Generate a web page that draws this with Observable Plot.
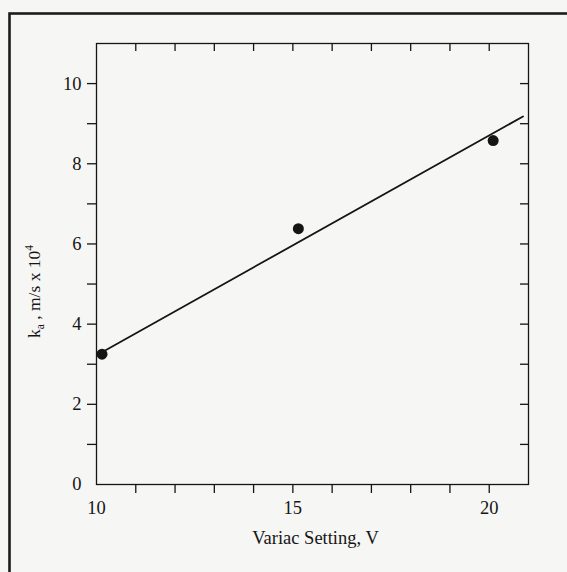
<!DOCTYPE html>
<html><head><meta charset="utf-8">
<script src="https://cdn.jsdelivr.net/npm/d3@7"></script>
<script src="https://cdn.jsdelivr.net/npm/@observablehq/plot@0.6"></script>
<style>
html,body{margin:0;padding:0;background:#f6f6f4;overflow:hidden}
#chart{position:absolute;left:0;top:0}
</style></head><body><div id="chart"></div>
<script>
// Measured points
const variac = [10.14, 15.14, 20.1];
const ka = [3.25, 6.38, 8.58];
// Fitted straight line (end points)
const fitVariac = [10.14, 20.86];
const fitKa = [3.30, 9.18];
// Ticks
const xTicks = [11, 12, 13, 14, 15, 16, 17, 18, 19, 20];
const xTickLabels = [10, 15, 20];
const yTicks = [1, 2, 3, 4, 5, 6, 7, 8, 9, 10];
const yTickLabels = [0, 2, 4, 6, 8, 10];
const xLabel = "Variac Setting, V";

const W = 567, H = 572, mL = 96, mR = 39, mT = 43, mB = 88;
const frameW = W - mL - mR, frameH = H - mT - mB;
const ink = "#151515";
const serif = "'Liberation Serif', 'DejaVu Serif', serif";

const points = variac.map((v, i) => ({x: v, y: ka[i]}));
const fit = fitVariac.map((v, i) => ({x: v, y: fitKa[i]}));

const svg = Plot.plot({
  width: W, height: H,
  marginLeft: mL, marginRight: mR, marginTop: mT, marginBottom: mB,
  style: {background: "transparent", fontFamily: serif, fontSize: "18px", color: ink},
  x: {domain: [10, 21]},
  y: {domain: [0, 11]},
  marks: [
    Plot.frame({stroke: ink, strokeWidth: 1.3}),
    Plot.axisX(xTicks, {anchor: "bottom", tickSize: 9, tickFormat: () => "", strokeWidth: 1.3, stroke: ink, label: null}),
    Plot.axisX(xTickLabels, {anchor: "bottom", tickSize: 0, tickPadding: 16, tickFormat: d => String(d), fill: ink, fontSize: 18.5, fontFamily: serif, label: null}),
    Plot.axisY(yTicks, {anchor: "left", tickSize: 9, tickFormat: () => "", strokeWidth: 1.3, stroke: ink, label: null}),
    Plot.axisY(yTickLabels, {anchor: "left", tickSize: 0, tickPadding: 15, tickFormat: d => String(d), fill: ink, fontSize: 18.5, fontFamily: serif, label: null}),
    Plot.tickX(xTicks, {x: d => d, insetBottom: frameH - 8, stroke: ink, strokeWidth: 1.3}),
    Plot.tickY(yTicks, {y: d => d, insetLeft: frameW - 8, stroke: ink, strokeWidth: 1.3}),
    Plot.line(fit, {x: "x", y: "y", stroke: ink, strokeWidth: 1.8}),
    Plot.dot(points, {x: "x", y: "y", r: 5.5, fill: ink, stroke: "none"}),
    Plot.text([xLabel], {text: d => d, frameAnchor: "bottom", dy: 59, dx: 3, fontSize: 18.5, fontFamily: serif, fill: ink})
  ]
});

const s = d3.select(svg);
// make sure tick labels use the serif face at the reference size
s.selectAll("g[aria-label$='tick label'], g[aria-label$='tick label'] text")
  .style("font-family", serif)
  .style("font-size", "18.5px")
  .style("font-variant", "normal");

// outer border of the figure panel
s.insert("rect", ":first-child")
  .attr("x", 9.5).attr("y", 13.5).attr("width", 700).attr("height", 700)
  .attr("fill", "none").attr("stroke", "#1c1c1c").attr("stroke-width", 2.6);

// y-axis label with subscript and superscript
const yl = s.append("text")
  .attr("transform", `translate(${mL - 56},${(mT + H - mB) / 2 + 28}) rotate(-90)`)
  .attr("text-anchor", "middle")
  .attr("font-family", serif)
  .attr("font-size", 17.5)
  .attr("fill", ink);
yl.append("tspan").text("k");
yl.append("tspan").attr("font-size", 11.5).attr("dy", 4).text("a");
yl.append("tspan").attr("dy", -4).text(" , m/s x 10");
yl.append("tspan").attr("font-size", 11.5).attr("dy", -7).text("4");

document.getElementById("chart").append(svg);
</script>
</body></html>
